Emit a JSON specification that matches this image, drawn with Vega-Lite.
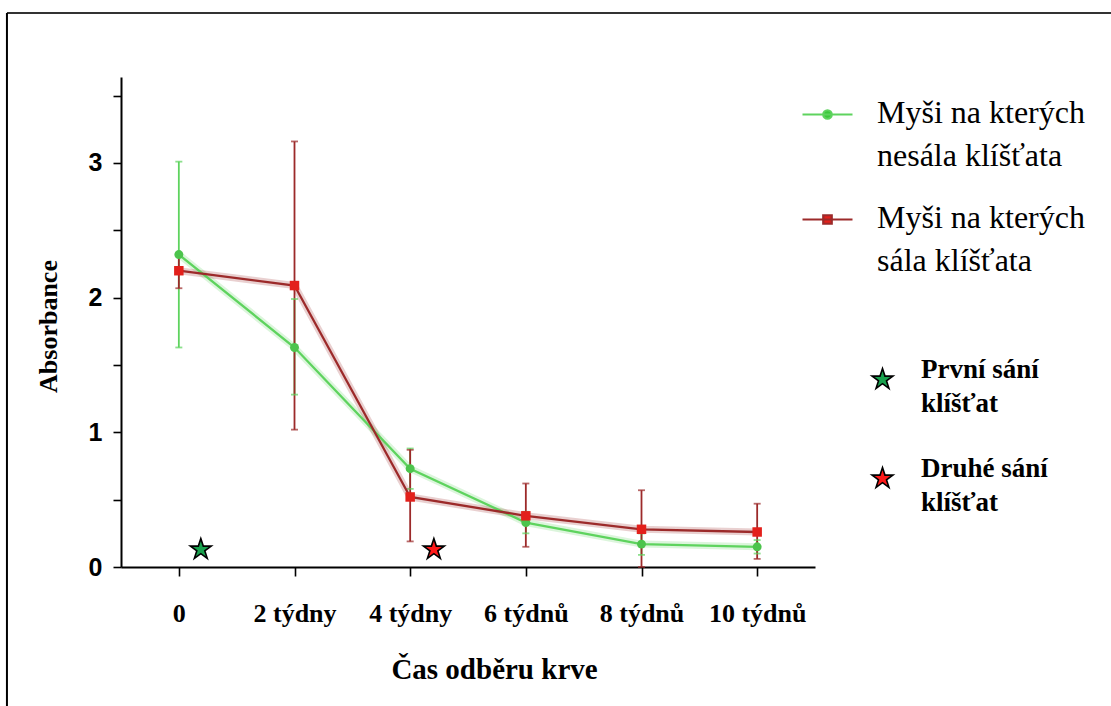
{
  "$schema": "https://vega.github.io/schema/vega-lite/v6.json",
  "width": 694,
  "height": 490,
  "padding": {"left": 5, "top": 11, "right": 0, "bottom": 0},
  "background": "white",
  "config": {
    "view": {"stroke": null},
    "font": "Liberation Serif",
    "axis": {"grid": false, "domainColor": "black", "domainWidth": 2, "tickColor": "black", "tickWidth": 1.6, "labelColor": "black", "titleColor": "black"},
    "legend": {"padding": 0}
  },
  "datasets": {
    "series": [
      {"series": "Myši na kterých nesála klíšťata", "week": 0, "mean": 2.32, "lo": 1.63, "hi": 3.01},
      {"series": "Myši na kterých nesála klíšťata", "week": 2, "mean": 1.63, "lo": 1.28, "hi": 1.99},
      {"series": "Myši na kterých nesála klíšťata", "week": 4, "mean": 0.73, "lo": 0.58, "hi": 0.88},
      {"series": "Myši na kterých nesála klíšťata", "week": 6, "mean": 0.33, "lo": 0.25, "hi": 0.41},
      {"series": "Myši na kterých nesála klíšťata", "week": 8, "mean": 0.17, "lo": 0.09, "hi": 0.25},
      {"series": "Myši na kterých nesála klíšťata", "week": 10, "mean": 0.15, "lo": 0.10, "hi": 0.20},
      {"series": "Myši na kterých sála klíšťata", "week": 0, "mean": 2.20, "lo": 2.07, "hi": 2.33},
      {"series": "Myši na kterých sála klíšťata", "week": 2, "mean": 2.09, "lo": 1.02, "hi": 3.16},
      {"series": "Myši na kterých sála klíšťata", "week": 4, "mean": 0.52, "lo": 0.19, "hi": 0.87},
      {"series": "Myši na kterých sála klíšťata", "week": 6, "mean": 0.38, "lo": 0.15, "hi": 0.62},
      {"series": "Myši na kterých sála klíšťata", "week": 8, "mean": 0.28, "lo": 0.0, "hi": 0.57},
      {"series": "Myši na kterých sála klíšťata", "week": 10, "mean": 0.26, "lo": 0.06, "hi": 0.47}
    ],
    "stars": [
      {"label": "První sání klíšťat", "week": 0.38, "value": 0.13},
      {"label": "Druhé sání klíšťat", "week": 4.41, "value": 0.13}
    ],
    "one": [{"k": 1}]
  },
  "layer": [
    {
      "data": {"name": "series"},
      "mark": {"type": "rule", "strokeWidth": 1.8},
      "encoding": {
        "x": {"field": "week", "type": "quantitative", "scale": {"domain": [-1, 11], "nice": false, "zero": false},
          "axis": {"values": [0, 2, 4, 6, 8, 10], "tickSize": 9, "labelPadding": 24,
            "labelExpr": "datum.value == 0 ? '0' : datum.value == 2 ? '2 týdny' : datum.value == 4 ? '4 týdny' : datum.value + ' týdnů'",
            "labelFont": "Liberation Serif", "labelFontWeight": "bold", "labelFontSize": 26, "labelBaseline": "top",
            "title": "Čas odběru krve", "titleFont": "Liberation Serif", "titleFontWeight": "bold", "titleFontSize": 29,
            "titleX": 373, "titleY": 102, "titleBaseline": "middle", "titleAlign": "center"}},
        "y": {"field": "lo", "type": "quantitative", "scale": {"domain": [0, 3.6385], "nice": false, "zero": false},
          "axis": {"values": [0, 0.5, 1, 1.5, 2, 2.5, 3, 3.5], "tickSize": 8, "labelPadding": 11,
            "labelExpr": "datum.value % 1 == 0 ? '' + datum.value : ''",
            "labelFont": "Liberation Sans", "labelFontWeight": "bold", "labelFontSize": 25,
            "title": "Absorbance", "titleFont": "Liberation Serif", "titleFontWeight": "bold", "titleFontSize": 26,
            "titleX": -73, "titleY": 249, "titleAngle": -90, "titleBaseline": "middle", "titleAlign": "center"}},
        "y2": {"field": "hi"},
        "stroke": {"field": "series", "type": "nominal",
          "scale": {"domain": ["Myši na kterých nesála klíšťata", "Myši na kterých sála klíšťata"], "range": ["#5ed35e", "#9c2a2a"]},
          "legend": {"orient": "none", "legendX": 680, "legendY": 11, "title": null, "labelFont": "Liberation Serif", "labelFontSize": 32,
            "labelFontWeight": "normal", "labelColor": "black", "labelLimit": 0, "labelOffset": 23, "symbolSize": 2500, "rowPadding": 21,
            "labelExpr": "datum.label == 'Myši na kterých nesála klíšťata' ? ['Myši na kterých', 'nesála klíšťata'] : ['Myši na kterých', 'sála klíšťata']",
            "encode": {
              "symbols": {"update": {
                "shape": {"signal": "datum.value == 'Myši na kterých nesála klíšťata' ? 'M-1,0H1M0.17,0A0.17,0.17,0,1,1,-0.17,0A0.17,0.17,0,1,1,0.17,0Z' : 'M-1,0H1M-0.17,-0.17H0.17V0.17H-0.17Z'"},
                "fill": {"signal": "datum.value == 'Myši na kterých nesála klíšťata' ? '#3cc83c' : '#e3201b'"},
                "strokeWidth": {"value": 2.2},
                "opacity": {"value": 1}
              }},
              "labels": {"update": {"lineHeight": {"value": 43}, "dy": {"value": -2}, "font": {"value": "Liberation Serif"}, "fontSize": {"value": 32}}}
            }}}
      }
    },
    {
      "data": {"name": "series"},
      "mark": {"type": "point", "shape": "stroke", "size": 49, "strokeWidth": 1.8, "filled": false},
      "encoding": {
        "x": {"field": "week", "type": "quantitative"},
        "y": {"field": "hi", "type": "quantitative"},
        "stroke": {"field": "series", "type": "nominal"}
      }
    },
    {
      "data": {"name": "series"},
      "mark": {"type": "point", "shape": "stroke", "size": 49, "strokeWidth": 1.8, "filled": false},
      "encoding": {
        "x": {"field": "week", "type": "quantitative"},
        "y": {"field": "lo", "type": "quantitative"},
        "stroke": {"field": "series", "type": "nominal"}
      }
    },
    {
      "data": {"name": "series"},
      "mark": {"type": "line", "strokeWidth": 7, "strokeOpacity": 0.22},
      "encoding": {
        "x": {"field": "week", "type": "quantitative"},
        "y": {"field": "mean", "type": "quantitative"},
        "stroke": {"field": "series", "type": "nominal"}
      }
    },
    {
      "data": {"name": "series"},
      "mark": {"type": "line", "strokeWidth": 2.3},
      "encoding": {
        "x": {"field": "week", "type": "quantitative"},
        "y": {"field": "mean", "type": "quantitative"},
        "stroke": {"field": "series", "type": "nominal"}
      }
    },
    {
      "data": {"name": "series"},
      "transform": [{"filter": "datum.series == 'Myši na kterých nesála klíšťata'"}],
      "mark": {"type": "point", "filled": true, "size": 80, "opacity": 1, "shape": "circle", "fill": "#4cc44c"},
      "encoding": {
        "x": {"field": "week", "type": "quantitative"},
        "y": {"field": "mean", "type": "quantitative"}
      }
    },
    {
      "data": {"name": "series"},
      "transform": [{"filter": "datum.series == 'Myši na kterých sála klíšťata'"}],
      "mark": {"type": "point", "filled": true, "size": 90, "opacity": 1, "shape": "square", "fill": "#e3201b"},
      "encoding": {
        "x": {"field": "week", "type": "quantitative"},
        "y": {"field": "mean", "type": "quantitative"}
      }
    },
    {
      "data": {"name": "stars"},
      "mark": {"type": "point", "shape": "M0,-1L0.225,-0.309L0.951,-0.309L0.363,0.118L0.588,0.809L0,0.382L-0.588,0.809L-0.363,0.118L-0.951,-0.309L-0.225,-0.309Z", "filled": true, "size": 480, "stroke": "black", "strokeWidth": 1.6, "opacity": 1},
      "encoding": {
        "x": {"field": "week", "type": "quantitative"},
        "y": {"field": "value", "type": "quantitative"},
        "color": {"field": "label", "type": "nominal",
          "scale": {"domain": ["První sání klíšťat", "Druhé sání klíšťat"], "range": ["#19a14e", "#ff1a1a"]},
          "legend": {"orient": "none", "legendX": 748, "legendY": 289, "title": null, "labelFont": "Liberation Serif", "labelFontSize": 27,
            "labelFontWeight": "bold", "labelColor": "black", "labelLimit": 0, "labelOffset": 25,
            "symbolType": "M0,-1L0.225,-0.309L0.951,-0.309L0.363,0.118L0.588,0.809L0,0.382L-0.588,0.809L-0.363,0.118L-0.951,-0.309L-0.225,-0.309Z", "symbolSize": 480,
            "symbolStrokeColor": "black", "symbolStrokeWidth": 1.6, "symbolOpacity": 1, "rowPadding": 37,
            "labelExpr": "datum.label == 'První sání klíšťat' ? ['První sání', 'klíšťat'] : ['Druhé sání', 'klíšťat']",
            "encode": {"labels": {"update": {"lineHeight": {"value": 34}, "dy": {"value": -10}}}}}}
      }
    },
    {
      "data": {"name": "one"},
      "mark": {"type": "rule", "stroke": "#333333", "strokeWidth": 2},
      "encoding": {
        "x": {"datum": -2.972, "type": "quantitative"},
        "x2": {"datum": 16.13},
        "y": {"datum": 4.114, "type": "quantitative"}
      }
    },
    {
      "data": {"name": "one"},
      "mark": {"type": "rule", "stroke": "black", "strokeWidth": 2},
      "encoding": {
        "x": {"datum": -2.972, "type": "quantitative"},
        "y": {"datum": -1.04, "type": "quantitative"},
        "y2": {"datum": 4.114}
      }
    }
  ]
}
